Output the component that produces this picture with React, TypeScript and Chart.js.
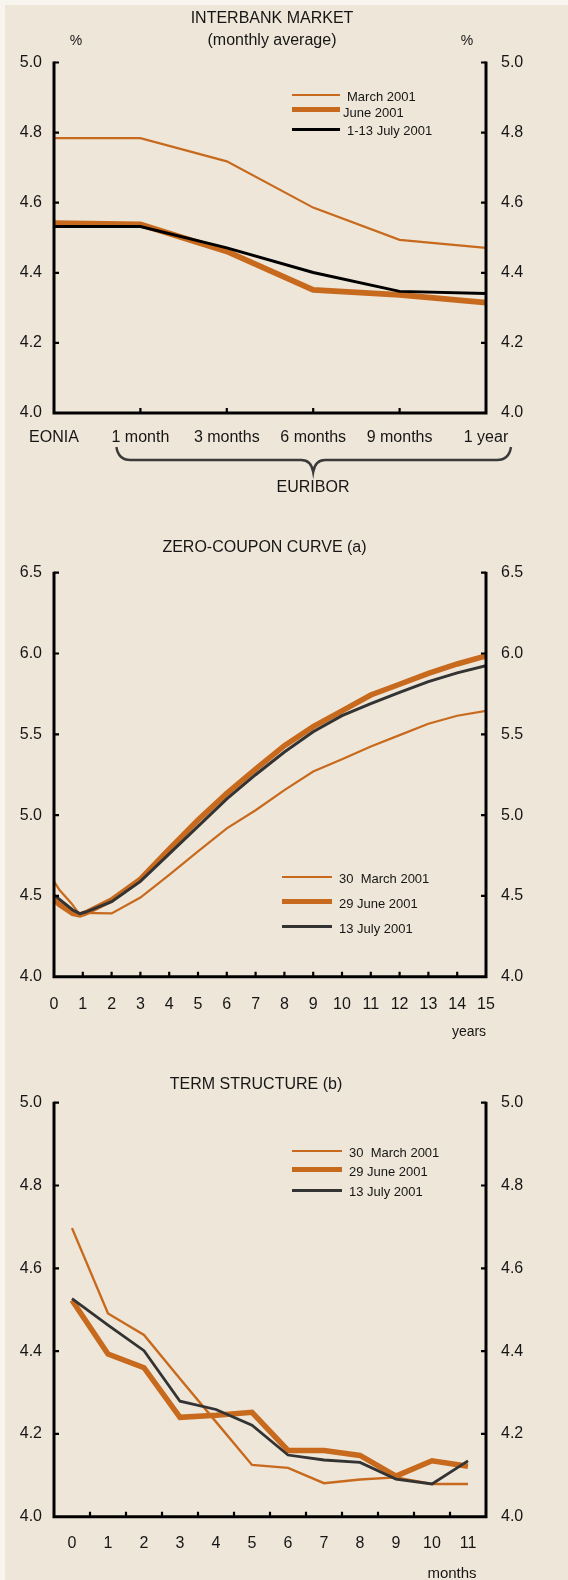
import React, { useEffect, useRef } from "react";
import { Chart, registerables } from "chart.js";
Chart.register(...registerables);

// ---------- DATA ----------
// Interbank market (monthly average)
const IB_CATEGORIES = ["EONIA", "1 month", "3 months", "6 months", "9 months", "1 year"];
const IB_MARCH = [4.784, 4.784, 4.718, 4.586, 4.494, 4.471];
const IB_JUNE = [4.542, 4.538, 4.461, 4.351, 4.337, 4.315];
const IB_JULY = [4.532, 4.532, 4.471, 4.401, 4.347, 4.341];
const IB_Y_TICKS = [4.0, 4.2, 4.4, 4.6, 4.8, 5.0];
const IB_SERIES = ["March 2001", "June 2001", "1-13 July 2001"];

// Zero-coupon curve (years)
const ZC_MARCH_X = [0, 0.2, 0.6, 0.85, 2, 3, 4, 5, 6, 7, 8, 9, 10, 11, 12, 13, 14, 15];
const ZC_MARCH_Y = [4.59, 4.535, 4.455, 4.395, 4.392, 4.49, 4.63, 4.775, 4.918, 5.03, 5.155, 5.27, 5.345, 5.425, 5.495, 5.565, 5.615, 5.645];
const ZC_JUNE_X = [0, 0.2, 0.65, 0.9, 1.1, 2, 3, 4, 5, 6, 7, 8, 9, 10, 11, 12, 13, 14, 15];
const ZC_JUNE_Y = [4.475, 4.445, 4.392, 4.382, 4.395, 4.475, 4.603, 4.79, 4.97, 5.135, 5.285, 5.43, 5.547, 5.645, 5.743, 5.81, 5.877, 5.935, 5.985];
const ZC_JULY_X = [0, 0.15, 0.65, 0.9, 1.1, 2, 3, 4, 5, 6, 7, 8, 9, 10, 11, 12, 13, 14, 15];
const ZC_JULY_Y = [4.505, 4.485, 4.413, 4.39, 4.4, 4.464, 4.59, 4.76, 4.93, 5.1, 5.25, 5.39, 5.516, 5.615, 5.69, 5.76, 5.826, 5.88, 5.925];
const ZC_X_TICKS = [0, 1, 2, 3, 4, 5, 6, 7, 8, 9, 10, 11, 12, 13, 14, 15];
const ZC_Y_TICKS = [4.0, 4.5, 5.0, 5.5, 6.0, 6.5];
const ZC_SERIES = ["30  March 2001", "29 June 2001", "13 July 2001"];

// Term structure (months)
const TS_CATEGORIES = ["0", "1", "2", "3", "4", "5", "6", "7", "8", "9", "10", "11"];
const TS_MARCH = [4.697, 4.491, 4.439, 4.333, 4.229, 4.125, 4.118, 4.081, 4.09, 4.095, 4.079, 4.079];
const TS_JUNE = [4.523, 4.393, 4.36, 4.24, 4.245, 4.252, 4.16, 4.16, 4.148, 4.098, 4.135, 4.122];
const TS_JULY = [4.527, 4.463, 4.401, 4.279, 4.259, 4.221, 4.149, 4.137, 4.131, 4.091, 4.079, 4.135];
const TS_Y_TICKS = [4.0, 4.2, 4.4, 4.6, 4.8, 5.0];
const TS_SERIES = ["30  March 2001", "29 June 2001", "13 July 2001"];

// ---------- STYLE ----------
const FONT = "'Liberation Sans', Arial, Helvetica, sans-serif";
const ORANGE = "#C86A1E";
const BG = "#EEE6D8";
const PAGE = "#F8F5EF";
const TEXT = "#161616";
const W = 568;
const AXIS_W = 3;
const TICK_LEN = 5;

type Style = { color: string; width: number; order: number };
const STYLE_1: Style[] = [
  { color: ORANGE, width: 2.2, order: 1 },
  { color: ORANGE, width: 5.8, order: 2 },
  { color: "#000000", width: 3, order: 0 },
];
const STYLE_2: Style[] = [
  { color: ORANGE, width: 2.2, order: 1 },
  { color: ORANGE, width: 5.5, order: 2 },
  { color: "#333333", width: 3, order: 0 },
];
const STYLE_3: Style[] = [
  { color: ORANGE, width: 2.4, order: 1 },
  { color: ORANGE, width: 5.5, order: 2 },
  { color: "#333333", width: 2.8, order: 0 },
];

const tickFont = { family: FONT, size: 16 };

function framePlugin(xTicks: (chart: any) => number[], extra?: (chart: any) => void) {
  return {
    id: "frame",
    afterDatasetsDraw(chart: any) {
      const { ctx, chartArea } = chart;
      const { left, right, top, bottom } = chartArea;
      const y = chart.scales.y;
      ctx.save();
      ctx.strokeStyle = "#000";
      ctx.lineWidth = AXIS_W;
      ctx.lineJoin = "miter";
      ctx.beginPath();
      ctx.moveTo(left, top - 1);
      ctx.lineTo(left, bottom);
      ctx.lineTo(right, bottom);
      ctx.lineTo(right, top - 1);
      ctx.stroke();
      ctx.lineWidth = 2.2;
      ctx.beginPath();
      for (const t of y.ticks) {
        const py = y.getPixelForValue(t.value);
        if (Math.abs(py - bottom) < 1) continue;
        ctx.moveTo(left, py);
        ctx.lineTo(left + TICK_LEN, py);
        ctx.moveTo(right, py);
        ctx.lineTo(right - TICK_LEN, py);
      }
      for (const px of xTicks(chart)) {
        ctx.moveTo(px, bottom);
        ctx.lineTo(px, bottom - TICK_LEN);
      }
      ctx.stroke();
      ctx.restore();
      if (extra) extra(chart);
    },
  };
}

function yAxes(ticks: number[], min: number, max: number, leftW: number, rightW: number) {
  const common = {
    type: "linear",
    min,
    max,
    grid: { display: false, drawTicks: false, tickLength: 0 },
    border: { display: false },
    afterBuildTicks: (s: any) => {
      s.ticks = ticks.map((v) => ({ value: v }));
    },
  };
  return {
    y: {
      ...common,
      position: "left",
      ticks: { font: tickFont, color: TEXT, padding: 12, callback: (v: any) => Number(v).toFixed(1) },
      afterFit: (s: any) => {
        s.width = leftW;
      },
    },
    y2: {
      ...common,
      position: "right",
      ticks: { font: tickFont, color: TEXT, padding: 15, callback: (v: any) => Number(v).toFixed(1) },
      afterFit: (s: any) => {
        s.width = rightW;
      },
    },
  };
}

function baseOptions(padTop: number) {
  return {
    responsive: false,
    animation: false,
    devicePixelRatio: 1,
    layout: { padding: { top: padTop, left: 0, right: 0, bottom: 0 } },
    plugins: { legend: { display: false }, tooltip: { enabled: false }, title: { display: false } },
    elements: { point: { radius: 0, hoverRadius: 0 }, line: { tension: 0, borderCapStyle: "butt", borderJoinStyle: "miter" } },
  };
}

function ds(label: string, data: any[], st: Style) {
  return {
    label,
    data,
    borderColor: st.color,
    backgroundColor: st.color,
    borderWidth: st.width,
    pointRadius: 0,
    fill: false,
    order: st.order,
    yAxisID: "y",
  };
}

// ---------- CHART CONFIGS ----------
function configInterbank(): any {
  const brace = (chart: any) => {
    const x = chart.scales.x;
    const ctx = chart.ctx;
    const x0 = x.getPixelForValue(1) - 24;
    const x1 = x.getPixelForValue(5) + 25;
    const tip = x.getPixelForValue(3);
    const yTop = 447;
    const yMid = 460;
    const yTip = 472;
    ctx.save();
    ctx.strokeStyle = "#3a3a3a";
    ctx.lineWidth = 2.4;
    ctx.beginPath();
    ctx.moveTo(x0, yTop);
    ctx.quadraticCurveTo(x0 + 2, yMid, x0 + 14, yMid);
    ctx.lineTo(tip - 12, yMid);
    ctx.quadraticCurveTo(tip - 2, yMid, tip, yTip);
    ctx.quadraticCurveTo(tip + 2, yMid, tip + 12, yMid);
    ctx.lineTo(x1 - 14, yMid);
    ctx.quadraticCurveTo(x1 - 2, yMid, x1, yTop);
    ctx.stroke();
    ctx.restore();
  };
  return {
    type: "line",
    data: {
      labels: IB_CATEGORIES,
      datasets: [
        ds(IB_SERIES[0], IB_MARCH, STYLE_1[0]),
        ds(IB_SERIES[1], IB_JUNE, STYLE_1[1]),
        ds(IB_SERIES[2], IB_JULY, STYLE_1[2]),
      ],
    },
    options: {
      ...baseOptions(62.5),
      scales: {
        x: {
          type: "category",
          offset: false,
          grid: { display: false, drawTicks: false, tickLength: 0 },
          border: { display: false },
          ticks: { font: tickFont, color: TEXT, padding: 15, autoSkip: false, maxRotation: 0 },
          afterFit: (s: any) => {
            s.height = 107;
          },
        },
        ...yAxes(IB_Y_TICKS, 4.0, 5.0, 54, W - 486),
      },
    },
    plugins: [
      framePlugin((chart) => [1, 2, 3, 4].map((i) => chart.scales.x.getPixelForValue(i)), brace),
    ],
  };
}

function zip(xs: number[], ys: number[]) {
  return xs.map((x, i) => ({ x, y: ys[i] }));
}

function configZero(): any {
  return {
    type: "line",
    data: {
      datasets: [
        ds(ZC_SERIES[0], zip(ZC_MARCH_X, ZC_MARCH_Y), STYLE_2[0]),
        ds(ZC_SERIES[1], zip(ZC_JUNE_X, ZC_JUNE_Y), STYLE_2[1]),
        ds(ZC_SERIES[2], zip(ZC_JULY_X, ZC_JULY_Y), STYLE_2[2]),
      ],
    },
    options: {
      ...baseOptions(52.7),
      scales: {
        x: {
          type: "linear",
          min: 0,
          max: 15,
          grid: { display: false, drawTicks: false, tickLength: 0 },
          border: { display: false },
          afterBuildTicks: (s: any) => {
            s.ticks = ZC_X_TICKS.map((v) => ({ value: v }));
          },
          ticks: { font: tickFont, color: TEXT, padding: 18, autoSkip: false, maxRotation: 0, callback: (v: any) => String(v) },
          afterFit: (s: any) => {
            s.height = 73.3;
          },
        },
        ...yAxes(ZC_Y_TICKS, 4.0, 6.5, 54, W - 486),
      },
    },
    plugins: [
      framePlugin((chart) => ZC_X_TICKS.slice(1, -1).map((v) => chart.scales.x.getPixelForValue(v))),
    ],
  };
}

function configTerm(): any {
  return {
    type: "line",
    data: {
      labels: TS_CATEGORIES,
      datasets: [
        ds(TS_SERIES[0], TS_MARCH, STYLE_3[0]),
        ds(TS_SERIES[1], TS_JUNE, STYLE_3[1]),
        ds(TS_SERIES[2], TS_JULY, STYLE_3[2]),
      ],
    },
    options: {
      ...baseOptions(52.7),
      scales: {
        x: {
          type: "category",
          offset: true,
          grid: { display: false, drawTicks: false, tickLength: 0, offset: true },
          border: { display: false },
          ticks: { font: tickFont, color: TEXT, padding: 17, autoSkip: false, maxRotation: 0 },
          afterFit: (s: any) => {
            s.height = 63.3;
          },
        },
        ...yAxes(TS_Y_TICKS, 4.0, 5.0, 54, W - 486),
      },
    },
    plugins: [
      framePlugin((chart) => {
        const x = chart.scales.x;
        const out: number[] = [];
        for (let i = 0; i < TS_CATEGORIES.length - 1; i++) {
          out.push((x.getPixelForValue(i) + x.getPixelForValue(i + 1)) / 2);
        }
        return out;
      }),
    ],
  };
}

// ---------- COMPONENTS ----------
function ChartCanvas({ top, height, build }: { top: number; height: number; build: () => any }) {
  const ref = useRef<HTMLCanvasElement | null>(null);
  useEffect(() => {
    const chart = new Chart(ref.current as HTMLCanvasElement, build());
    return () => chart.destroy();
  }, []);
  return (
    <canvas
      ref={ref}
      width={W}
      height={height}
      style={{ position: "absolute", left: 0, top, width: W, height, display: "block" }}
    />
  );
}

function Txt({ x, y, size = 16, align = "center", children }: any) {
  const tx = align === "center" ? "-50%" : "0";
  return (
    <div
      style={{
        position: "absolute",
        left: x,
        top: y,
        transform: `translate(${tx}, -50%)`,
        fontFamily: FONT,
        fontSize: size,
        lineHeight: 1,
        color: TEXT,
        whiteSpace: "pre",
      }}
    >
      {children}
    </div>
  );
}

function Legend({ names, styles, x0, x1, lineY, textX, textY }: any) {
  return (
    <>
      {names.map((n: string, i: number) => (
        <React.Fragment key={n}>
          <div
            style={{
              position: "absolute",
              left: x0,
              top: lineY[i] - styles[i].width / 2,
              width: x1 - x0,
              height: styles[i].width,
              background: styles[i].color,
            }}
          />
          <Txt x={textX[i]} y={textY[i]} size={13} align="left">
            {n}
          </Txt>
        </React.Fragment>
      ))}
    </>
  );
}

export default function App() {
  return (
    <div style={{ position: "absolute", left: 0, top: 0, width: W, height: 1580, background: PAGE, overflow: "hidden" }}>
      <div style={{ position: "absolute", left: 5, top: 5, right: 0, bottom: 0, background: BG }} />

      {/* Chart 1 */}
      <ChartCanvas top={0} height={520} build={configInterbank} />
      <Txt x={272} y={18}>INTERBANK MARKET</Txt>
      <Txt x={272} y={40}>(monthly average)</Txt>
      <Txt x={76} y={40} size={14}>%</Txt>
      <Txt x={467} y={40} size={14}>%</Txt>
      <Txt x={313} y={487}>EURIBOR</Txt>
      <Legend
        names={IB_SERIES}
        styles={STYLE_1}
        x0={292}
        x1={340}
        lineY={[95, 109.5, 129]}
        textX={[347, 343, 347]}
        textY={[96, 112, 130]}
      />

      {/* Chart 2 */}
      <ChartCanvas top={520} height={530} build={configZero} />
      <Txt x={264.5} y={547}>ZERO-COUPON CURVE (a)</Txt>
      <Txt x={469} y={1031} size={14}>years</Txt>
      <Legend
        names={ZC_SERIES}
        styles={STYLE_2}
        x0={282}
        x1={331.5}
        lineY={[876.7, 901.7, 926.7]}
        textX={[339, 339, 339]}
        textY={[877.5, 903, 927.5]}
      />

      {/* Chart 3 */}
      <ChartCanvas top={1050} height={530} build={configTerm} />
      <Txt x={256} y={1084}>TERM STRUCTURE (b)</Txt>
      <Txt x={452} y={1572} size={15}>months</Txt>
      <Legend
        names={TS_SERIES}
        styles={STYLE_3}
        x0={291.7}
        x1={342.4}
        lineY={[1151, 1169.3, 1190.7]}
        textX={[349, 349, 349]}
        textY={[1152, 1171, 1190.5]}
      />
    </div>
  );
}
